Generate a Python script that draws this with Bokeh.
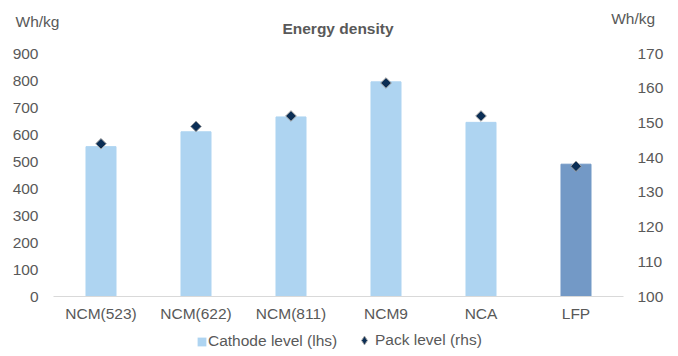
from bokeh.plotting import figure
from bokeh.layouts import column
from bokeh.models import (Range1d, FactorRange, LinearAxis, FixedTicker, Label,
                          Legend, LegendItem, ColumnDataSource)
from bokeh.embed import file_html
from bokeh.resources import INLINE
import numpy as np

categories = ["NCM(523)", "NCM(622)", "NCM(811)", "NCM9", "NCA", "LFP"]
cathode_level = [555, 610, 665, 795, 645, 490]
pack_level = [144, 149, 152, 161.5, 152, 137.5]
bar_colors = ["#AED4F1", "#AED4F1", "#AED4F1", "#AED4F1", "#AED4F1", "#7399C6"]
left_ticks = [0, 100, 200, 300, 400, 500, 600, 700, 800, 900]
right_ticks = [100, 110, 120, 130, 140, 150, 160, 170]

FONT = "Liberation Sans"
TXT = "#595959"
FS = "15.5px"
W = 678

src = ColumnDataSource(dict(cat=categories, cathode=cathode_level,
                            pack=pack_level, color=bar_colors))


def bare(fig):
    fig.outline_line_color = None
    fig.grid.visible = False
    fig.background_fill_color = "white"
    fig.border_fill_color = "white"
    return fig


def no_align(fig):
    try:
        fig.frame_align = False
        return True
    except Exception:
        return False


# ---------------- header: title and unit texts ----------------
head = bare(figure(width=W, height=43, x_range=Range1d(0, W), y_range=Range1d(43, 0),
                   x_axis_location=None, y_axis_location=None,
                   output_backend="svg", toolbar_location=None, min_border=0))
ok = no_align(head)
for x, y, t, bold in [(337.5, 28.3, "Energy density", True),
                      (15, 20.5, "Wh/kg", False),
                      (610.7, 18.3, "Wh/kg", False)]:
    head.add_layout(Label(x=x, y=y, text=t,
                          text_align="center" if bold else "left",
                          text_baseline="alphabetic", text_font=FONT,
                          text_font_size=FS, text_color=TXT,
                          text_font_style="bold" if bold else "normal"))

# ---------------- main chart ----------------
p = bare(figure(width=W, height=283, x_range=FactorRange(factors=categories),
                y_range=Range1d(0, 900), output_backend="svg", toolbar_location=None,
                min_border_left=53, min_border_right=55, min_border_top=10,
                min_border_bottom=30))
no_align(p)
p.extra_y_ranges = {"pack": Range1d(100, 170)}

p.vbar(x="cat", top="cathode", width=0.316, color="color", source=src)
p.scatter(x="cat", y="pack", marker="square", angle=np.pi / 4, size=7.5,
          fill_color="#0B2E55", line_color="#A0A0A0", line_width=1,
          y_range_name="pack", source=src)

xa = p.xaxis[0]
xa.axis_line_color = "#D9D9D9"
xa.axis_line_width = 1.2
xa.major_tick_line_color = None
xa.minor_tick_line_color = None
xa.major_tick_out = 0
xa.major_label_standoff = 8
xa.major_label_text_font = FONT
xa.major_label_text_font_size = FS
xa.major_label_text_color = TXT

ya = p.yaxis[0]
ya.ticker = FixedTicker(ticks=left_ticks)
ra = LinearAxis(y_range_name="pack", ticker=FixedTicker(ticks=right_ticks))
p.add_layout(ra, "right")
for ax, so in [(ya, 15), (ra, 14)]:
    ax.axis_line_color = None
    ax.major_tick_line_color = None
    ax.minor_tick_line_color = None
    ax.major_tick_out = 0
    ax.major_label_standoff = so
    ax.major_label_text_font = FONT
    ax.major_label_text_font_size = FS
    ax.major_label_text_color = TXT

# ---------------- footer: legend ----------------
foot = bare(figure(width=W, height=30, x_range=FactorRange(factors=categories),
                   y_range=Range1d(-2000, -1000), x_axis_location=None,
                   y_axis_location=None, output_backend="svg",
                   toolbar_location=None, min_border=0))
no_align(foot)
# same series, outside the footer's visible range: only their legend glyphs show
lb = foot.vbar(x="cat", top="cathode", width=0, fill_color="color", line_color=None,
               source=src)
lp = foot.scatter(x="cat", y="pack", marker="diamond", size=10,
                  fill_color="#0B2E55", line_color="#A0A0A0", line_width=1, source=src)

dx = 0 if ok else -52.5
common = dict(orientation="horizontal", padding=0, margin=0, border_line_color=None,
              background_fill_alpha=0, label_text_font=FONT,
              label_text_font_size=FS, label_text_color=TXT)
leg1 = Legend(items=[LegendItem(label="Cathode level (lhs)", renderers=[lb], index=0)],
              location=(196 + dx, 6), glyph_width=11, glyph_height=11, label_standoff=1,
              **common)
leg2 = Legend(items=[LegendItem(label="Pack level (rhs)", renderers=[lp], index=0)],
              location=(353 + dx, 5), glyph_width=22, glyph_height=22, label_standoff=0,
              **common)
foot.add_layout(leg1)
foot.add_layout(leg2)

page = column(head, p, foot, spacing=0)
open("out.html", "w").write(file_html(page, INLINE))
